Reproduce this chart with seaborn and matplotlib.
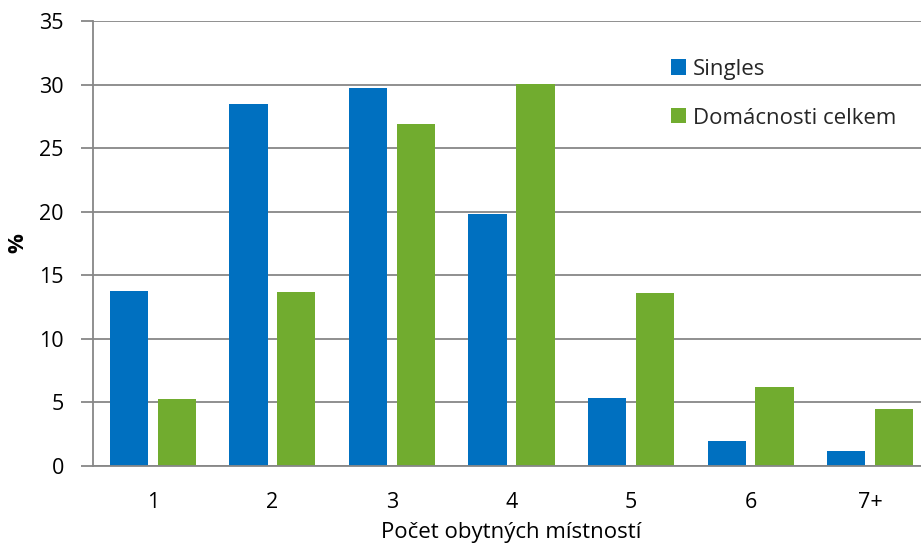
import matplotlib
matplotlib.use("Agg")
import matplotlib.pyplot as plt
import seaborn as sns
import pandas as pd
from matplotlib.patches import Patch

categories = ["1", "2", "3", "4", "5", "6", "7+"]
singles = [13.8, 28.5, 29.7, 19.8, 5.35, 1.95, 1.15]
celkem = [5.25, 13.7, 26.9, 30.05, 13.6, 6.2, 4.5]
series_names = ["Singles", "Domácnosti celkem"]
colors = ["#0070C0", "#71AC2F"]

df = pd.DataFrame({
    "cat": categories * 2,
    "val": singles + celkem,
    "series": [series_names[0]] * len(categories) + [series_names[1]] * len(categories),
})

sns.set_theme(style="white")
plt.rcParams["font.family"] = ["Open Sans", "DejaVu Sans"]

fig = plt.figure(figsize=(9.21, 5.49), dpi=100)
ax = fig.add_axes([93 / 921, 83 / 549, 837 / 921, 445 / 549])

sns.barplot(data=df, x="cat", y="val", hue="series", palette=colors,
            width=0.8, gap=0.2, ax=ax, legend=False, saturation=1,
            edgecolor="none", linewidth=0)

ax.set_ylim(0, 35)
ax.set_xlim(-0.5, len(categories) - 0.5)
ax.set_yticks(range(0, 36, 5))
ax.yaxis.grid(True, color="#878787", linewidth=1.3)
ax.set_axisbelow(True)

for s in ["top", "right"]:
    ax.spines[s].set_visible(False)
for s in ["left", "bottom"]:
    ax.spines[s].set_color("#878787")
    ax.spines[s].set_linewidth(1.3)

ax.set_xticks(range(len(categories)))
ax.set_xticklabels(categories)
ax.set_xticks([i - 0.5 for i in range(len(categories) + 1)], minor=True)
ax.tick_params(axis="x", which="major", length=0, pad=19, labelsize=15.5, labelcolor="#000000")
ax.tick_params(axis="x", which="minor", length=8, width=1.3, color="#878787", direction="out")
ax.tick_params(axis="y", which="major", length=9, width=1.3, color="#878787", direction="out",
               left=True, labelsize=15.5, pad=12, labelcolor="#000000")

ax.set_xlabel("Počet obytných místností", fontsize=16, labelpad=6, color="#000000")
ax.set_ylabel("%", fontsize=16, fontweight="bold", labelpad=8, color="#000000")

handles = [Patch(facecolor=c, edgecolor="none") for c in colors]
ax.legend(handles, series_names, loc="upper left", bbox_to_anchor=(0.68, 0.935),
          frameon=False, fontsize=16, labelspacing=1.25, handlelength=0.68,
          handleheight=0.68, handletextpad=0.3, borderaxespad=0)

fig.savefig("out.png", dpi=100)
